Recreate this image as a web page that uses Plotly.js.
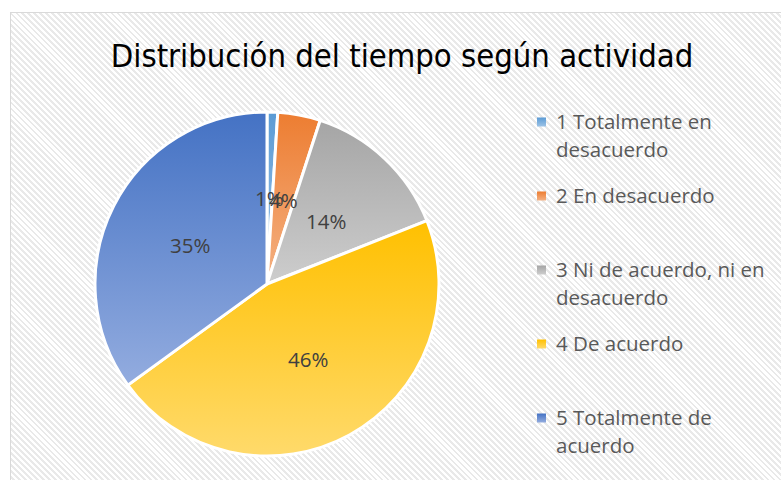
<!DOCTYPE html>
<html>
<head>
<meta charset="utf-8">
<script src="https://cdn.plot.ly/plotly-3.0.1.min.js"></script>
<style>
  html, body { margin: 0; padding: 0; background: #ffffff; }
  #wrap { position: relative; width: 781px; height: 480px; overflow: hidden; background: #ffffff; }
  #bg {
    position: absolute; left: 10px; top: 12px; width: 800px; height: 500px;
    border: 1px solid #d9d9d9; box-sizing: border-box;
    background: repeating-linear-gradient(45deg, #ffffff 0px, #ffffff 2.2px, #e9e9e9 2.2px, #e9e9e9 4.2px);
  }
  #chart { position: absolute; left: 0; top: 0; width: 781px; height: 480px; }
</style>
</head>
<body>
<div id="wrap">
  <div id="bg"></div>
  <div id="chart"></div>
</div>
<script>
// ---- data ----
const categories = [
  "1 Totalmente en<br>desacuerdo",
  "2 En desacuerdo",
  "3 Ni de acuerdo, ni en<br>desacuerdo",
  "4 De acuerdo",
  "5 Totalmente de<br>acuerdo"
];
const values = [1, 4, 14, 46, 35];
const topColors = ["#5B9BD5", "#ED7D31", "#A5A5A5", "#FFC000", "#4472C4"];
const bottomColors = ["#9DC3E6", "#F4B183", "#CDCDCD", "#FFDA6B", "#93ACDF"];
const titleText = "Distribución del tiempo según actividad";

// ---- layout geometry ----
const W = 781, H = 480;
const cx = 267, cy = 284, R = 172;
const domX = [(cx - R) / W, (cx + R) / W];
const domY = [1 - (cy + R) / H, 1 - (cy - R) / H];

const total = values.reduce((a, b) => a + b, 0);
const pctText = values.map(v => Math.round(v / total * 100) + "%");

// percentage labels on the bisector at half radius
const annotations = [];
let cum = 0;
values.forEach((v, i) => {
  const mid = (cum + v / 2) / total * 2 * Math.PI;
  cum += v;
  const px = cx + 0.5 * R * Math.sin(mid);
  const py = cy - 0.5 * R * Math.cos(mid);
  annotations.push({
    x: px / W, y: 1 - py / H, xref: "paper", yref: "paper",
    text: pctText[i], showarrow: false, xanchor: "center", yanchor: "middle",
    font: {family: "Open Sans, sans-serif", size: 20.5, color: "#404040"}
  });
});

// legend (text lines + square markers)
const legX = 554, legFirstY = 121, legStep = 74, legLine = 28;
const shapes = [];
categories.forEach((c, i) => {
  const y0 = legFirstY + i * legStep;
  c.split("<br>").forEach((line, j) => {
    annotations.push({
      x: legX / W, y: 1 - (y0 + j * legLine) / H, xref: "paper", yref: "paper",
      text: line, showarrow: false, xanchor: "left", yanchor: "middle",
      font: {family: "Open Sans, sans-serif", size: 20.5, color: "#595959"}
    });
  });
  shapes.push({
    type: "rect", xref: "paper", yref: "paper",
    x0: 537 / W, x1: 546 / W, y0: 1 - (y0 + 5.5) / H, y1: 1 - (y0 - 3.5) / H,
    fillcolor: topColors[i], line: {width: 0}
  });
});

const trace = {
  type: "pie",
  values: values,
  labels: categories,
  sort: false,
  direction: "clockwise",
  rotation: 0,
  textinfo: "none",
  hoverinfo: "none",
  marker: {colors: topColors, line: {color: "#ffffff", width: 3}},
  domain: {x: domX, y: domY},
  showlegend: false
};

const layout = {
  width: W, height: H,
  margin: {l: 0, r: 0, t: 0, b: 0},
  paper_bgcolor: "rgba(0,0,0,0)",
  plot_bgcolor: "rgba(0,0,0,0)",
  showlegend: false,
  title: {
    text: titleText,
    x: 402 / W, xanchor: "center", xref: "paper",
    y: 1 - 56 / H, yanchor: "middle", yref: "paper",
    font: {family: "DejaVu Sans Condensed, sans-serif", size: 32.5, color: "#000000"}
  },
  annotations: annotations,
  shapes: shapes
};

Plotly.newPlot("chart", [trace], layout, {staticPlot: true}).then(gd => {
  const svg = gd.querySelector("svg.main-svg");
  const defs = svg.querySelector("defs");
  const NS = "http://www.w3.org/2000/svg";
  topColors.forEach((c, i) => {
    const g = document.createElementNS(NS, "linearGradient");
    g.setAttribute("id", "slgrad" + i);
    g.setAttribute("x1", "0"); g.setAttribute("y1", "0");
    g.setAttribute("x2", "0"); g.setAttribute("y2", "1");
    const s1 = document.createElementNS(NS, "stop");
    s1.setAttribute("offset", "0"); s1.setAttribute("stop-color", c);
    const s2 = document.createElementNS(NS, "stop");
    s2.setAttribute("offset", "1"); s2.setAttribute("stop-color", bottomColors[i]);
    g.appendChild(s1); g.appendChild(s2);
    defs.appendChild(g);
  });
  gd.querySelectorAll("g.slice path.surface").forEach((p, i) => {
    p.style.fill = "url(#slgrad" + i + ")";
  });
  gd.querySelectorAll(".shapelayer path").forEach((p, i) => {
    if (i < topColors.length) p.style.fill = "url(#slgrad" + i + ")";
  });
});
</script>
</body>
</html>
